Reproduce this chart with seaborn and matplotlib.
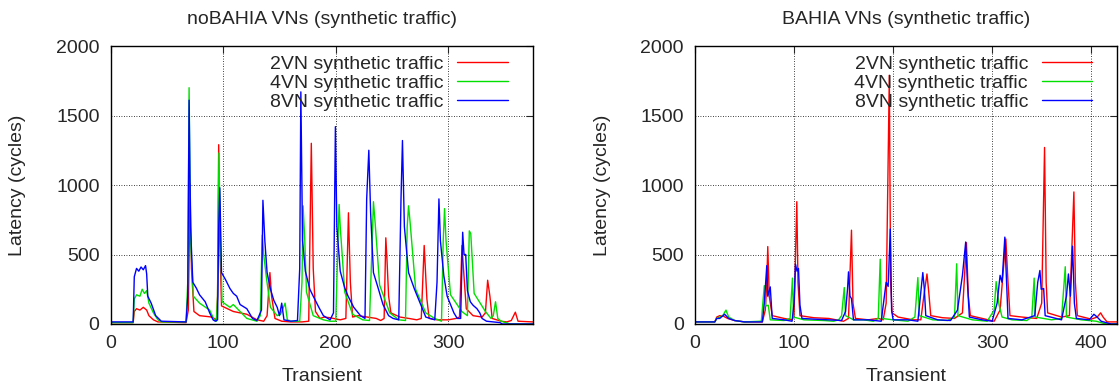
import matplotlib
matplotlib.use("Agg")
import matplotlib.pyplot as plt
import pandas as pd
import seaborn as sns

LABELS = ["2VN synthetic traffic", "4VN synthetic traffic", "8VN synthetic traffic"]
COLORS = ["#ff0000", "#00e000", "#0000ff"]

Y_TICKS = [0, 500, 1000, 1500, 2000]
LEFT_X_TICKS = [0, 100, 200, 300]
RIGHT_X_TICKS = [0, 100, 200, 300, 400]

# noBAHIA panel, (transient, latency) points
left_2vn = [
    (0, 10), (20, 10), (21, 90), (23, 110), (26, 100), (29, 120), (32, 100), (34, 60), (38, 30),
    (42, 15), (67, 10), (69, 100), (70.6, 1010), (71.8, 400), (74, 90), (79, 60), (90, 50),
    (94, 30), (95, 200), (96, 1290), (97, 600), (98.5, 130), (109, 90), (121, 70), (130, 30),
    (136, 20), (139, 60), (141.5, 370), (143, 200), (146, 40), (152, 20), (160, 15), (170, 15),
    (176, 20), (178.3, 1300), (180, 400), (182, 90), (186, 40), (190, 50), (195, 45), (204, 30),
    (209, 40), (211.3, 800), (213, 300), (215, 50), (220, 60), (236, 40), (240, 25), (243, 40),
    (244.5, 620), (245.5, 470), (247, 200), (249, 80), (257, 50), (265, 40), (272, 30), (276, 40),
    (278.6, 565), (281, 180), (283, 40), (290, 30), (300, 30), (307, 40), (310, 50), (312.2, 565),
    (313.5, 400), (316, 110), (322, 60), (330, 50), (333, 80), (335, 315), (337, 200), (339, 40),
    (347, 20), (352, 15), (356, 25), (359.6, 85), (362, 20), (375, 15),
]
left_4vn = [
    (0, 10), (20, 10), (21, 180), (23, 210), (26, 200), (28, 250), (30, 220), (32, 240), (34, 150),
    (38, 80), (42, 30), (45, 15), (67, 15), (68.5, 300), (69.7, 1700), (71, 600), (73.5, 200),
    (79, 150), (88, 100), (92, 30), (94, 20), (95, 200), (96.2, 1230), (97, 800), (99, 160),
    (106, 120), (109, 140), (115, 90), (121, 40), (130, 20), (133, 60), (134.7, 640), (136, 500),
    (138.6, 320), (142, 120), (148, 60), (151, 70), (155, 150), (157, 30), (160, 20), (168, 20),
    (170, 300), (171, 850), (172.5, 600), (174, 230), (180, 60), (189, 30), (195, 20), (200, 20),
    (202, 600), (203, 860), (204, 700), (208, 230), (215, 70), (224, 30), (230, 25), (232, 500),
    (233.5, 880), (235, 730), (239, 280), (248, 80), (256, 30), (262, 25), (263.5, 700),
    (264.7, 850), (266, 740), (271, 250), (280, 80), (288, 40), (294, 20), (295.5, 600),
    (296.7, 830), (298, 600), (302, 210), (312, 90), (317, 60), (318.7, 670), (320, 650),
    (323, 220), (333, 90), (338, 40), (340, 60), (342, 160), (344, 40), (347, 20), (355, 0),
    (375, 0),
]
left_8vn = [
    (0, 15), (20, 15), (21, 340), (23, 400), (25, 380), (27, 410), (29, 390), (31, 420), (32, 360),
    (33, 200), (36, 150), (40, 60), (45, 20), (67, 15), (68.5, 200), (69.7, 1610), (71, 700),
    (73, 300), (76, 260), (79, 210), (84, 160), (88, 80), (91, 30), (93, 20), (95, 30), (96, 700),
    (97, 980), (98.5, 370), (102, 320), (106, 255), (109, 220), (112, 200), (115, 140), (121, 110),
    (126, 40), (130, 25), (134, 100), (135.3, 890), (137, 600), (139, 370), (142, 250), (145, 170),
    (148, 120), (150, 60), (152, 150), (154, 30), (160, 20), (166, 25), (168, 400), (169, 1670),
    (170.5, 600), (173, 380), (177, 250), (180, 200), (185, 120), (189, 60), (195, 30),
    (198, 80), (199.7, 1420), (201, 700), (204, 380), (208, 260), (211, 200), (216, 120),
    (222, 60), (226, 40), (227.5, 900), (229.4, 1250), (231, 800), (233.5, 370), (238, 250),
    (242, 140), (247, 60), (251, 40), (256, 30), (258, 900), (259.3, 1320), (261, 700),
    (264.7, 370), (270, 250), (275, 150), (280, 50), (288, 30), (290, 300), (291.7, 900),
    (293, 600), (296, 350), (299, 200), (302, 140), (305, 80), (308, 40), (311, 40), (312.8, 660),
    (314, 500), (315.5, 500), (317, 240), (319.6, 160), (322, 135), (325.5, 110), (328, 80),
    (330, 40), (334, 20), (340, 15), (346, 10), (348, 0), (375, 0),
]

# BAHIA panel
right_2vn = [
    (0, 15), (20, 15), (22, 50), (25, 60), (29, 55), (33, 40), (40, 25), (50, 15), (68, 15),
    (71, 100), (72.5, 300), (73.5, 557), (75, 200), (78, 60), (90, 40), (98, 30), (100, 60),
    (102.8, 880), (104, 300), (106, 60), (120, 45), (135, 40), (150, 20), (155, 40), (158, 675),
    (159.5, 150), (162, 40), (175, 30), (185, 40), (190, 30), (193, 150), (196.2, 1790),
    (197.5, 300), (199, 80), (205, 50), (220, 30), (228, 30), (231, 200), (234.2, 360), (236, 230),
    (238, 60), (250, 45), (262, 40), (270, 80), (274, 585), (276, 200), (278, 60), (290, 40),
    (302, 20), (308, 100), (313.8, 612), (316, 300), (318, 60), (330, 50), (345, 40), (350, 150),
    (352.9, 1270), (354.5, 300), (356, 80), (370, 50), (378, 60), (382.5, 950), (384, 300),
    (386, 60), (400, 35), (406, 50), (409.5, 80), (412, 50), (416, 15), (426, 15),
]
right_4vn = [
    (0, 15), (20, 15), (22, 40), (28, 60), (31.3, 100), (34, 50), (40, 25), (50, 15), (67, 20),
    (70, 276), (71.5, 130), (74, 135), (76, 30), (90, 25), (96, 40), (98.4, 330), (99.5, 50),
    (110, 30), (130, 25), (140, 20), (145, 30), (148, 60), (150.7, 262), (152, 60), (160, 30),
    (170, 30), (180, 20), (185, 40), (187, 466), (188.5, 40), (200, 30), (215, 20), (222, 50),
    (225, 334), (226.5, 60), (240, 30), (255, 25), (262, 50), (264.2, 433), (265.5, 60), (280, 30),
    (295, 20), (302, 100), (304, 305), (307, 136), (310, 50), (320, 30), (335, 25), (340, 50),
    (342.4, 330), (343.5, 50), (360, 30), (370, 40), (373.8, 412), (375, 50), (390, 30),
    (405, 20), (415, 0), (426, 0),
]
right_8vn = [
    (0, 15), (20, 15), (22, 40), (25, 40), (30, 70), (34, 40), (40, 25), (50, 15), (68, 15),
    (70, 150), (72.5, 420), (73.5, 200), (76, 267), (78, 40), (90, 30), (98, 20), (100, 150),
    (101.5, 430), (103, 380), (104.5, 400), (106, 136), (108, 40), (120, 35), (135, 30),
    (148, 25), (152, 90), (154, 250), (155, 375), (156.5, 200), (158, 183), (160, 30), (175, 30),
    (188, 20), (193, 300), (195, 270), (197.2, 683), (198.5, 100), (200, 30), (215, 30),
    (225, 20), (229, 300), (230, 370), (231.5, 255), (233, 60), (245, 30), (258, 25), (265, 100),
    (270, 350), (273.3, 590), (275, 300), (277, 50), (290, 30), (300, 20), (305, 150), (308, 350),
    (310, 300), (312.8, 625), (314, 400), (316, 40), (330, 30), (343, 60), (346, 300),
    (348.2, 385), (349.5, 250), (352, 255), (353.5, 60), (370, 30), (375, 200), (377, 360),
    (379, 200), (381.2, 560), (383, 150), (385, 40), (398, 30), (402.7, 70), (406, 50), (410, 20),
    (420, 0), (426, 0),
]


def to_frame(series: dict) -> pd.DataFrame:
    rows = []
    for label, points in series.items():
        for x, y in points:
            rows.append({"series": label, "transient": x, "latency": y})
    return pd.DataFrame(rows)


def draw_panel(ax, df, title, xmax, xticks):
    sns.lineplot(
        data=df, x="transient", y="latency", hue="series", hue_order=LABELS,
        palette=COLORS, estimator=None, linewidth=1.0, ax=ax,
    )
    ax.set_xlim(0, xmax)
    ax.set_ylim(0, 2000)
    ax.set_xticks(xticks)
    ax.set_yticks(Y_TICKS)
    ax.grid(True, color="black", linestyle=(0, (1, 2)), linewidth=0.6)
    ax.tick_params(direction="in", top=True, right=True, length=5, width=0.8, pad=8, labelsize=14)
    for spine in ax.spines.values():
        spine.set_visible(True)
        spine.set_color("black")
        spine.set_linewidth(1.0)
    ax.set_title(title, fontsize=14, pad=16)
    ax.set_xlabel("Transient", fontsize=14)
    ax.set_ylabel("Latency (cycles)", fontsize=14)
    ax.xaxis.set_label_coords(0.5, -0.16)
    ax.yaxis.set_label_coords(-0.2, 0.5)
    handles, labels = ax.get_legend_handles_labels()
    ax.legend(
        handles, labels, loc="upper right", bbox_to_anchor=(0.941, 0.967),
        frameon=False, markerfirst=False, fontsize=14, handlelength=2.6,
        handletextpad=0.7, labelspacing=0.08, borderpad=0, borderaxespad=0,
    )


sns.set_style("white")
plt.rcParams["font.family"] = ["Liberation Sans", "DejaVu Sans"]

fig = plt.figure(figsize=(11.2, 3.87), dpi=100)
ax_left = fig.add_axes([0.0988, 0.1628, 0.3768, 0.7183])
ax_right = fig.add_axes([0.6205, 0.1628, 0.3768, 0.7183])

left_df = to_frame(dict(zip(LABELS, [left_2vn, left_4vn, left_8vn])))
right_df = to_frame(dict(zip(LABELS, [right_2vn, right_4vn, right_8vn])))

draw_panel(ax_left, left_df, "noBAHIA VNs (synthetic traffic)", 375, LEFT_X_TICKS)
draw_panel(ax_right, right_df, "BAHIA VNs (synthetic traffic)", 426, RIGHT_X_TICKS)

fig.savefig("out.png", dpi=100)
